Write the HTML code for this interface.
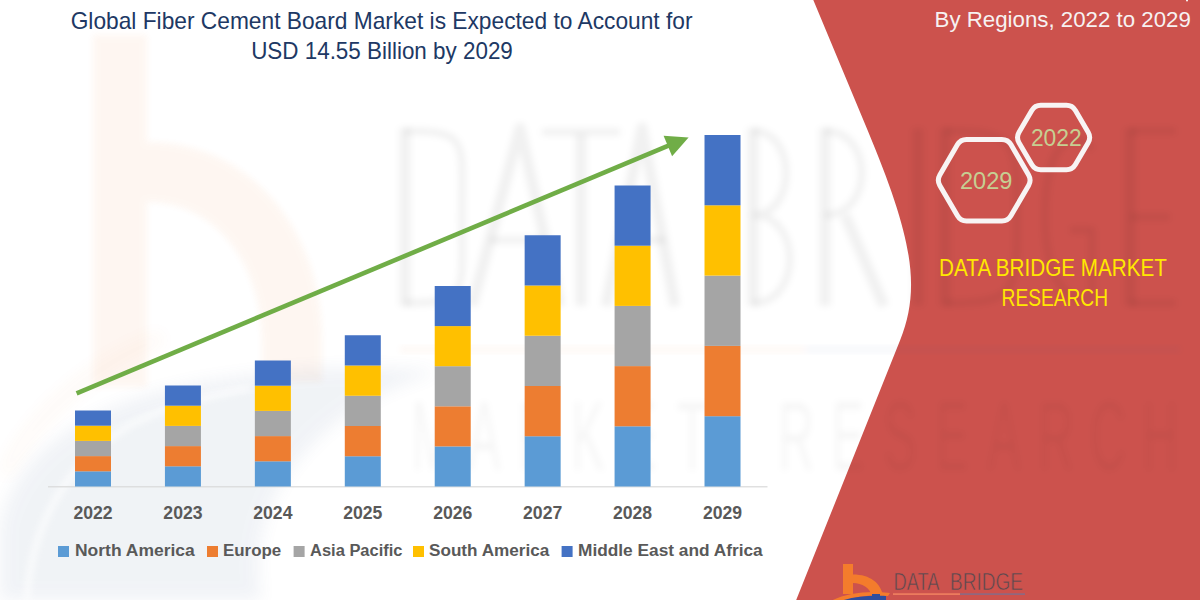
<!DOCTYPE html>
<html><head><meta charset="utf-8">
<style>
html,body{margin:0;padding:0;background:#fff;}
body{width:1200px;height:600px;overflow:hidden;position:relative;}
svg{display:block;font-family:"Liberation Sans",sans-serif;}
</style></head><body>
<svg width="1200" height="600" viewBox="0 0 1200 600">
<defs>
<filter id="bl" x="-20%" y="-20%" width="140%" height="140%"><feGaussianBlur stdDeviation="3"/></filter>
<filter id="bl2" x="-20%" y="-20%" width="140%" height="140%"><feGaussianBlur stdDeviation="8"/></filter>
</defs>
<rect width="1200" height="600" fill="#ffffff"/>
<path d="M813.3 0 L867.51 130 C911.39 235.22 921.74 286.15 900.2 340 L796.2 600 L1200 600 L1200 0 Z" fill="#CC524D"/>
<g opacity="0.06" filter="url(#bl)">
<rect x="93" y="35" width="54" height="352" fill="#F07A2B"/>
<path d="M147 142 C250 142 322 230 322 340 L322 382 L262 382 L262 345 C262 262 215 202 147 202 Z" fill="#F07A2B"/>
</g>
<g opacity="0.075" filter="url(#bl2)">
<path d="M0 525 C15 455 80 405 200 382 C300 365 380 365 440 372 C320 405 240 500 262 600 L0 600 Z" fill="#4A6898"/>
</g>
<path d="M27 600 C30 540 55 470 130 425 C170 405 210 395 250 388" fill="none" stroke="#fff" stroke-width="7" opacity="0.6" filter="url(#bl)"/>
<g opacity="0.035" filter="url(#bl2)">
<path d="M0 470 C20 420 80 360 160 330 L165 345 C90 375 35 430 8 480 Z" fill="#F07A2B"/>
</g>
<g fill="none" stroke="#000" stroke-opacity="0.055" filter="url(#bl)" stroke-linejoin="round">
<g stroke-width="11">
<path d="M405 128 L405 306"/>
<path d="M472 306 L520 128 L560 306"/>
<path d="M581 134 L581 306"/>
<path d="M606 306 L642 128 L675 306"/>
<path d="M753 128 L753 306"/>
<path d="M825 306 L825 128 M845 215 L884 306"/>
<path d="M918 128 L918 306"/>
<path d="M945 128 L945 306"/>
<path d="M1130 128 L1130 306"/>
</g>
<g stroke-width="7">
<path d="M405 131 C470 131 462 140 462 217 C462 294 470 303 405 303"/>
<path d="M490 240 L545 240"/>
<path d="M542 132 L620 132"/>
<path d="M617 240 L665 240"/>
<path d="M753 131 C797 131 797 215 753 215 M753 215 C802 215 802 303 753 303"/>
<path d="M825 131 C874 131 874 215 825 215"/>
<path d="M945 131 C1017 131 1017 140 1017 217 C1017 294 1017 303 945 303"/>
<path d="M1092 150 C1082 132 1045 128 1045 217 C1045 306 1092 310 1092 290 L1092 230 L1070 230"/>
<path d="M1130 131 L1176 131 M1130 217 L1170 217 M1130 303 L1176 303"/>
</g>
</g>
<g opacity="0.045" filter="url(#bl)">
<rect x="400" y="346" width="405" height="7" fill="#F07A2B"/>
<rect x="805" y="346" width="375" height="7" fill="#3A5FA0"/>
</g>
<g fill="#000" fill-opacity="0.035" filter="url(#bl)" font-size="99" text-anchor="middle">
<text transform="translate(432,470) scale(0.5,1)">M</text><text transform="translate(484,470) scale(0.5,1)">A</text><text transform="translate(536,470) scale(0.5,1)">R</text><text transform="translate(588,470) scale(0.5,1)">K</text><text transform="translate(640,470) scale(0.5,1)">E</text><text transform="translate(692,470) scale(0.5,1)">T</text><text transform="translate(796,470) scale(0.5,1)">R</text><text transform="translate(848,470) scale(0.5,1)">E</text><text transform="translate(900,470) scale(0.5,1)">S</text><text transform="translate(952,470) scale(0.5,1)">E</text><text transform="translate(1004,470) scale(0.5,1)">A</text><text transform="translate(1056,470) scale(0.5,1)">R</text><text transform="translate(1108,470) scale(0.5,1)">C</text><text transform="translate(1160,470) scale(0.5,1)">H</text>
</g>
<g>
<text x="381.6" y="28.6" font-size="23.2" text-anchor="middle" textLength="621.8" lengthAdjust="spacingAndGlyphs" fill="#203864">Global Fiber Cement Board Market is Expected to Account for</text>
<text x="382.0" y="58.5" font-size="23.2" text-anchor="middle" textLength="261.69" lengthAdjust="spacingAndGlyphs" fill="#203864">USD 14.55 Billion by 2029</text>
</g>
<rect x="48" y="486.2" width="719.5" height="1.2" fill="#D9D9D9"/>
<rect x="75.00" y="471.30" width="36.0" height="15.20" fill="#5B9BD5"/><rect x="75.00" y="456.10" width="36.0" height="15.20" fill="#ED7D31"/><rect x="75.00" y="440.90" width="36.0" height="15.20" fill="#A5A5A5"/><rect x="75.00" y="425.70" width="36.0" height="15.20" fill="#FFC000"/><rect x="75.00" y="410.50" width="36.0" height="15.20" fill="#4472C4"/><rect x="164.93" y="466.30" width="36.0" height="20.20" fill="#5B9BD5"/><rect x="164.93" y="446.10" width="36.0" height="20.20" fill="#ED7D31"/><rect x="164.93" y="425.90" width="36.0" height="20.20" fill="#A5A5A5"/><rect x="164.93" y="405.70" width="36.0" height="20.20" fill="#FFC000"/><rect x="164.93" y="385.50" width="36.0" height="20.20" fill="#4472C4"/><rect x="254.86" y="461.30" width="36.0" height="25.20" fill="#5B9BD5"/><rect x="254.86" y="436.10" width="36.0" height="25.20" fill="#ED7D31"/><rect x="254.86" y="410.90" width="36.0" height="25.20" fill="#A5A5A5"/><rect x="254.86" y="385.70" width="36.0" height="25.20" fill="#FFC000"/><rect x="254.86" y="360.50" width="36.0" height="25.20" fill="#4472C4"/><rect x="344.79" y="456.25" width="36.0" height="30.25" fill="#5B9BD5"/><rect x="344.79" y="426.00" width="36.0" height="30.25" fill="#ED7D31"/><rect x="344.79" y="395.75" width="36.0" height="30.25" fill="#A5A5A5"/><rect x="344.79" y="365.50" width="36.0" height="30.25" fill="#FFC000"/><rect x="344.79" y="335.25" width="36.0" height="30.25" fill="#4472C4"/><rect x="434.72" y="446.40" width="36.0" height="40.10" fill="#5B9BD5"/><rect x="434.72" y="406.30" width="36.0" height="40.10" fill="#ED7D31"/><rect x="434.72" y="366.20" width="36.0" height="40.10" fill="#A5A5A5"/><rect x="434.72" y="326.10" width="36.0" height="40.10" fill="#FFC000"/><rect x="434.72" y="286.00" width="36.0" height="40.10" fill="#4472C4"/><rect x="524.65" y="436.25" width="36.0" height="50.25" fill="#5B9BD5"/><rect x="524.65" y="386.00" width="36.0" height="50.25" fill="#ED7D31"/><rect x="524.65" y="335.75" width="36.0" height="50.25" fill="#A5A5A5"/><rect x="524.65" y="285.50" width="36.0" height="50.25" fill="#FFC000"/><rect x="524.65" y="235.25" width="36.0" height="50.25" fill="#4472C4"/><rect x="614.58" y="426.30" width="36.0" height="60.20" fill="#5B9BD5"/><rect x="614.58" y="366.10" width="36.0" height="60.20" fill="#ED7D31"/><rect x="614.58" y="305.90" width="36.0" height="60.20" fill="#A5A5A5"/><rect x="614.58" y="245.70" width="36.0" height="60.20" fill="#FFC000"/><rect x="614.58" y="185.50" width="36.0" height="60.20" fill="#4472C4"/><rect x="704.51" y="416.20" width="36.0" height="70.30" fill="#5B9BD5"/><rect x="704.51" y="345.90" width="36.0" height="70.30" fill="#ED7D31"/><rect x="704.51" y="275.60" width="36.0" height="70.30" fill="#A5A5A5"/><rect x="704.51" y="205.30" width="36.0" height="70.30" fill="#FFC000"/><rect x="704.51" y="135.00" width="36.0" height="70.30" fill="#4472C4"/>
<line x1="76.6" y1="393.3" x2="668.5" y2="145.7" stroke="#70AD47" stroke-width="4.6"/>
<polygon points="663.6,135.8 688.6,137.5 672.1,156.25" fill="#70AD47"/>
<g fill="#595959" font-size="17.6" font-weight="bold">
<text x="93.00" y="518.7" text-anchor="middle">2022</text><text x="182.93" y="518.7" text-anchor="middle">2023</text><text x="272.86" y="518.7" text-anchor="middle">2024</text><text x="362.79" y="518.7" text-anchor="middle">2025</text><text x="452.72" y="518.7" text-anchor="middle">2026</text><text x="542.65" y="518.7" text-anchor="middle">2027</text><text x="632.58" y="518.7" text-anchor="middle">2028</text><text x="722.51" y="518.7" text-anchor="middle">2029</text>
</g>
<rect x="58" y="546" width="11" height="11" fill="#5B9BD5"/>
<rect x="207" y="546" width="11" height="11" fill="#ED7D31"/>
<rect x="293.6" y="546" width="11" height="11" fill="#A5A5A5"/>
<rect x="413" y="546" width="11" height="11" fill="#FFC000"/>
<rect x="561.6" y="546" width="11" height="11" fill="#4472C4"/>
<text x="75.0" y="556.4" font-size="17.2" font-weight="bold" textLength="119.8" lengthAdjust="spacingAndGlyphs" fill="#595959">North America</text>
<text x="223.0" y="556.4" font-size="17.2" font-weight="bold" textLength="58.22" lengthAdjust="spacingAndGlyphs" fill="#595959">Europe</text>
<text x="310.0" y="556.4" font-size="17.2" font-weight="bold" textLength="92.5" lengthAdjust="spacingAndGlyphs" fill="#595959">Asia Pacific</text>
<text x="429.0" y="556.4" font-size="17.2" font-weight="bold" textLength="120.26" lengthAdjust="spacingAndGlyphs" fill="#595959">South America</text>
<text x="578.0" y="556.4" font-size="17.2" font-weight="bold" textLength="184.7" lengthAdjust="spacingAndGlyphs" fill="#595959">Middle East and Africa</text>
<text x="934.6" y="26.8" font-size="22.8" textLength="256.2" lengthAdjust="spacingAndGlyphs" fill="#F7F2F2">By Regions, 2022 to 2029</text>
<rect x="1186" y="0" width="2" height="1.3" fill="#F5F0F0"/>
<g fill="none" stroke="#F8F4F4" stroke-width="5">
<path d="M939.81 185.39 Q936.80 180.20 939.81 175.01 L957.49 144.59 Q960.50 139.40 966.50 139.40 L1001.90 139.40 Q1007.90 139.40 1010.91 144.59 L1028.59 175.01 Q1031.60 180.20 1028.59 185.39 L1010.91 215.81 Q1007.90 221.00 1001.90 221.00 L966.50 221.00 Q960.50 221.00 957.49 215.81 Z"/>
<path d="M1019.03 142.68 Q1016.00 137.50 1019.03 132.32 L1031.77 110.48 Q1034.80 105.30 1040.80 105.30 L1066.40 105.30 Q1072.40 105.30 1075.43 110.48 L1088.17 132.32 Q1091.20 137.50 1088.17 142.68 L1075.43 164.52 Q1072.40 169.70 1066.40 169.70 L1040.80 169.70 Q1034.80 169.70 1031.77 164.52 Z"/>
</g>
<text x="986.2" y="188.6" font-size="23.3" text-anchor="middle" textLength="52.43" lengthAdjust="spacingAndGlyphs" fill="#C6CF92">2029</text>
<text x="1056.3" y="145.6" font-size="23.3" text-anchor="middle" textLength="50.83" lengthAdjust="spacingAndGlyphs" fill="#C6CF92">2022</text>
<text x="1053.0" y="275.7" font-size="23.4" text-anchor="middle" textLength="227.77" lengthAdjust="spacingAndGlyphs" fill="#FFE800">DATA BRIDGE MARKET</text>
<text x="1054.8" y="306.1" font-size="23.4" text-anchor="middle" textLength="106.38" lengthAdjust="spacingAndGlyphs" fill="#FFE800">RESEARCH</text>
<g>
<rect x="843" y="564" width="10" height="30" fill="#F47C2C"/>
<path d="M853 574.5 C870 574.5 881 583 883 596 L872 596 C870 588 862 583 853 583 Z" fill="#F47C2C"/>
<path d="M826 604 C840 594 865 590 890 593 L888 596 C866 594 845 598 834 606 Z" fill="#F47C2C"/>
<path d="M830 606 C845 597 866 595 886 596 L886 601 C866 600 850 602 838 608 Z" fill="#2E4E9E"/>
<rect x="872" y="594" width="8" height="8" fill="#2E4E9E"/>
</g>
<g fill="#5A4A50" stroke="#CC524D" stroke-width="0.6" font-size="24.5">
<text x="893.5" y="590" textLength="46" lengthAdjust="spacingAndGlyphs">DATA</text>
<text x="950" y="590" textLength="73" lengthAdjust="spacingAndGlyphs">BRIDGE</text>
</g>
<rect x="893" y="593.3" width="67" height="1.6" fill="#F08060"/>
<rect x="960" y="593.3" width="65" height="1.6" fill="#8A6A85"/>
</svg>
</body></html>
